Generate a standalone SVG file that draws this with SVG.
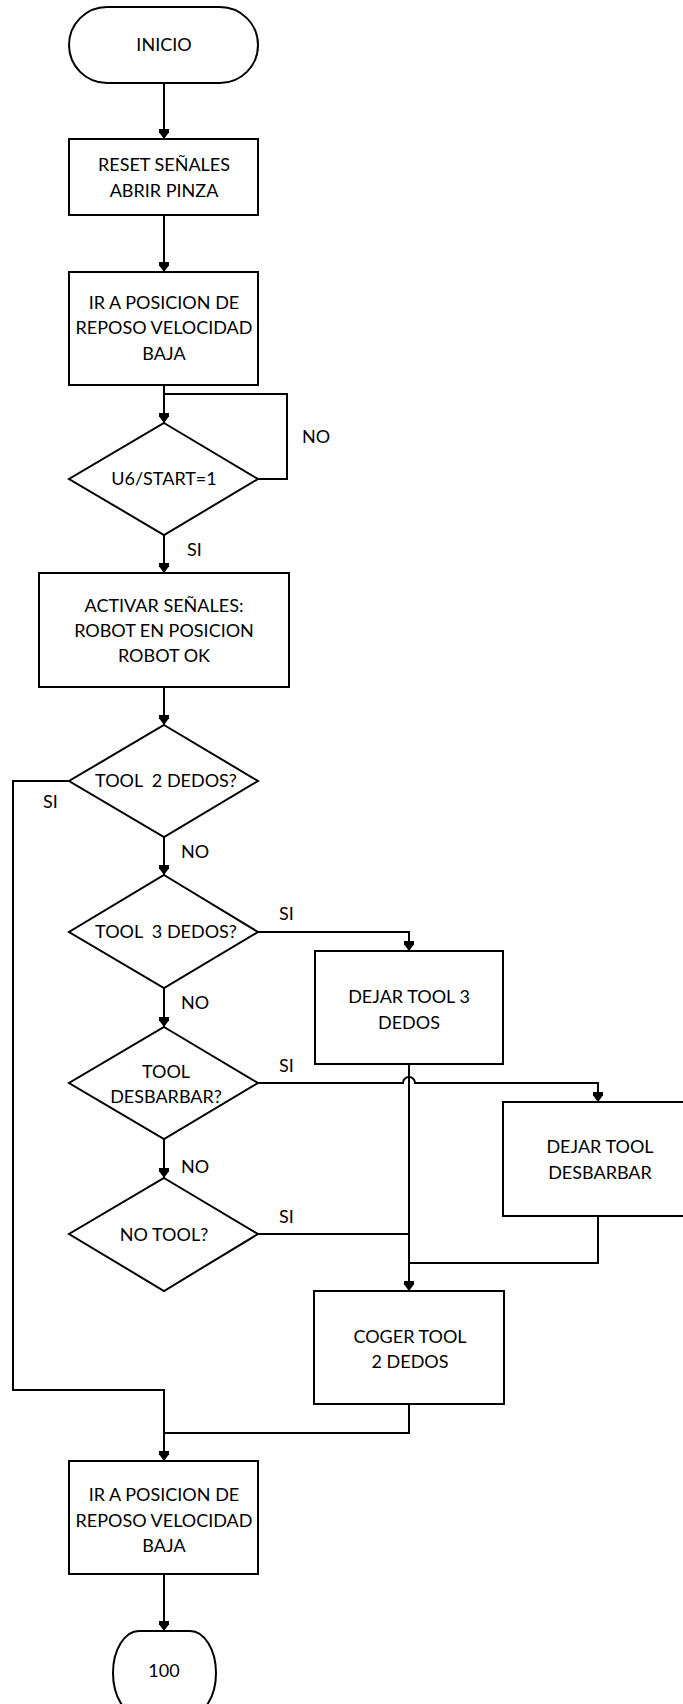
<svg xmlns="http://www.w3.org/2000/svg" width="683" height="1704" viewBox="0 0 683 1704">
<defs>
<marker id="ah" markerUnits="userSpaceOnUse" markerWidth="16" markerHeight="10" viewBox="0 -5 10 10" refX="10" refY="0" orient="auto">
<path d="M0,-7.5 L10,0 L0,7.5 Z" fill="#000"/>
</marker>
</defs>
<style>
.s{fill:#fff;stroke:#000;stroke-width:2}
.c{fill:none;stroke:#000;stroke-width:2}
.t{font-family:Lato,"Open Sans",sans-serif;font-size:18px;fill:#000;text-anchor:middle;white-space:pre}
.l{font-family:Lato,"Open Sans",sans-serif;font-size:18px;fill:#000;text-anchor:start}
</style>
<rect width="683" height="1704" fill="#fff"/>
<g id="connectors">
<path class="c" d="M164,83 V139" marker-end="url(#ah)"/>
<path class="c" d="M164,215 V272" marker-end="url(#ah)"/>
<path class="c" d="M164,385 V423" marker-end="url(#ah)"/>
<path class="c" d="M258,479 H287 V394 H164"/>
<path class="c" d="M164,535 V573" marker-end="url(#ah)"/>
<path class="c" d="M164,687 V725" marker-end="url(#ah)"/>
<path class="c" d="M164,837 V875" marker-end="url(#ah)"/>
<path class="c" d="M164,988 V1027" marker-end="url(#ah)"/>
<path class="c" d="M164,1139 V1178" marker-end="url(#ah)"/>
<path class="c" d="M258,932 H409 V951" marker-end="url(#ah)"/>
<path class="c" d="M258,1083 H403 A6,6 0 0 1 415,1083 H598 V1102" marker-end="url(#ah)"/>
<path class="c" d="M409,1064 V1291" marker-end="url(#ah)"/>
<path class="c" d="M258,1234 H409"/>
<path class="c" d="M598,1216 V1263 H409"/>
<path class="c" d="M69,781 H13 V1390 H164 V1461" marker-end="url(#ah)"/>
<path class="c" d="M409,1404 V1433 H164"/>
<path class="c" d="M164,1574 V1631" marker-end="url(#ah)"/>
</g>
<g id="inicio">
<rect class="s" x="69" y="7" width="189" height="76" rx="38" ry="38"/>
<text class="t" x="164" y="51">INICIO</text>
</g>
<g id="reset">
<rect class="s" x="69" y="139" width="189" height="76"/>
<text class="t" x="164" y="171">RESET SEÑALES</text>
<text class="t" x="164" y="197">ABRIR PINZA</text>
</g>
<g id="reposo1">
<rect class="s" x="69" y="272" width="189" height="113"/>
<text class="t" x="164" y="309">IR A POSICION DE</text>
<text class="t" x="164" y="334">REPOSO VELOCIDAD</text>
<text class="t" x="164" y="360">BAJA</text>
</g>
<g id="start">
<path class="s" d="M164,423 L258,479 L164,535 L69,479 Z"/>
<text class="t" x="164" y="485">U6/START=1</text>
</g>
<g id="activar">
<rect class="s" x="39" y="573" width="250" height="114"/>
<text class="t" x="164" y="612">ACTIVAR SEÑALES:</text>
<text class="t" x="164" y="637">ROBOT EN POSICION</text>
<text class="t" x="164" y="662">ROBOT OK</text>
</g>
<g id="tool2">
<path class="s" d="M164,725 L258,781 L164,837 L69,781 Z"/>
<text class="t" x="166" y="787">TOOL  2 DEDOS?</text>
</g>
<g id="tool3">
<path class="s" d="M164,875 L258,932 L164,988 L69,932 Z"/>
<text class="t" x="166" y="938">TOOL  3 DEDOS?</text>
</g>
<g id="tooldesb">
<path class="s" d="M164,1027 L258,1083 L164,1139 L69,1083 Z"/>
<text class="t" x="166" y="1078">TOOL</text>
<text class="t" x="166" y="1103">DESBARBAR?</text>
</g>
<g id="notool">
<path class="s" d="M164,1178 L258,1234 L164,1291 L69,1234 Z"/>
<text class="t" x="164" y="1241">NO TOOL?</text>
</g>
<g id="dejar3">
<rect class="s" x="315" y="951" width="188" height="113"/>
<text class="t" x="409" y="1003">DEJAR TOOL 3</text>
<text class="t" x="409" y="1029">DEDOS</text>
</g>
<g id="dejardesb">
<rect class="s" x="503" y="1102" width="192" height="114"/>
<text class="t" x="600" y="1153">DEJAR TOOL</text>
<text class="t" x="600" y="1179">DESBARBAR</text>
</g>
<g id="coger">
<rect class="s" x="314" y="1291" width="190" height="113"/>
<text class="t" x="410" y="1343">COGER TOOL</text>
<text class="t" x="410" y="1368">2 DEDOS</text>
</g>
<g id="reposo2">
<rect class="s" x="69" y="1461" width="189" height="113"/>
<text class="t" x="164" y="1501">IR A POSICION DE</text>
<text class="t" x="164" y="1527">REPOSO VELOCIDAD</text>
<text class="t" x="164" y="1552">BAJA</text>
</g>
<g id="fin">
<rect class="s" x="113" y="1631" width="103" height="84" rx="26" ry="42"/>
<text class="t" x="164" y="1677">100</text>
</g>
<g id="labels">
<text class="l" x="302" y="443">NO</text>
<text class="l" x="187" y="556">SI</text>
<text class="l" x="43" y="808">SI</text>
<text class="l" x="181" y="858">NO</text>
<text class="l" x="279" y="920">SI</text>
<text class="l" x="181" y="1009">NO</text>
<text class="l" x="279" y="1072">SI</text>
<text class="l" x="181" y="1173">NO</text>
<text class="l" x="279" y="1223">SI</text>
</g>
</svg>
